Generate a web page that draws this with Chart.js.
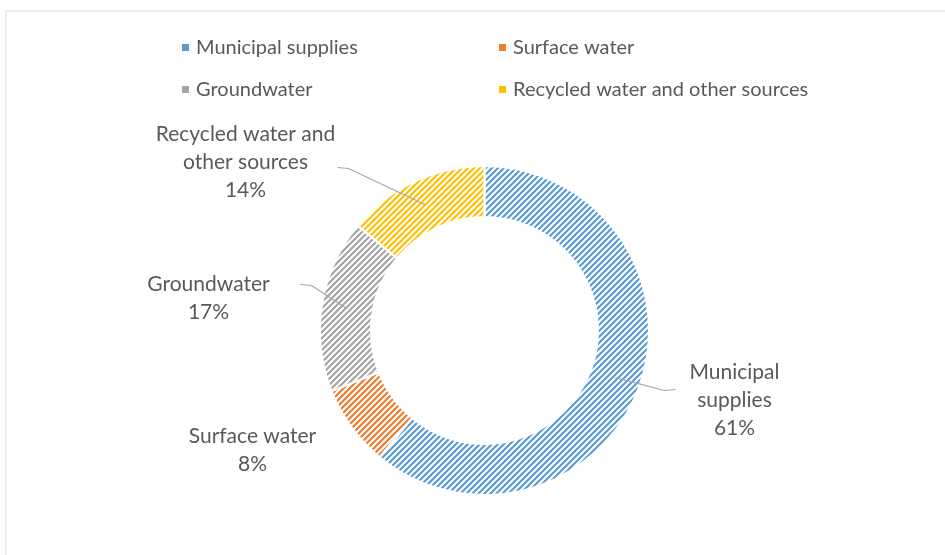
<!DOCTYPE html>
<html>
<head>
<meta charset="utf-8">
<script src="https://cdn.jsdelivr.net/npm/chart.js@4.4.1/dist/chart.umd.min.js"></script>
<style>
  html, body { margin: 0; padding: 0; background: #fff; }
  #wrap { position: relative; width: 945px; height: 555px; overflow: hidden; }
  #frame { position: absolute; left: 5px; top: 10px; width: 1000px; height: 600px;
           border: 2px solid #ededed; background: #fff; }
  canvas { position: absolute; left: 0; top: 0; }
</style>
</head>
<body>
<div id="wrap">
  <div id="frame"></div>
  <canvas id="chart" width="945" height="555"></canvas>
</div>
<script>
// water sources, share of total (%)
const sources = ['Municipal supplies', 'Surface water', 'Groundwater', 'Recycled water and other sources'];
const shares = [61, 8, 17, 14];
const colors = ['#5b9bd5', '#ed7d31', '#a5a5a5', '#ffc000'];

// split label text for the outside labels
const sliceLabels = [['Municipal', 'supplies'], ['Surface water'], ['Groundwater'], ['Recycled water and', 'other sources']];

// where each label block sits, relative to the ring centre; lead = leader line end
const labelSpots = [
  { dx: 250, dy: 70, lead: { x: 191, y: 59, dir: -1 } },
  { dx: -232, dy: 120, lead: null },
  { dx: -276, dy: -32, lead: { x: -184, y: -46, dir: 1 } },
  { dx: -239, dy: -168, lead: { x: -147, y: -163, dir: 1 } }
];

const FONT = 'Lato, "Open Sans", sans-serif';
const TEXT = '#595959';

function hatch(color) {
  const c = document.createElement('canvas');
  c.width = 6; c.height = 6;
  const g = c.getContext('2d');
  g.fillStyle = '#ffffff';
  g.fillRect(0, 0, 6, 6);
  g.strokeStyle = color;
  g.lineWidth = 2.2;
  g.beginPath();
  g.moveTo(-3, 3); g.lineTo(3, -3);
  g.moveTo(0, 6); g.lineTo(6, 0);
  g.moveTo(3, 9); g.lineTo(9, 3);
  g.stroke();
  return g.createPattern(c, 'repeat');
}

const outsideLabels = {
  id: 'outsideLabels',
  afterDraw(chart) {
    const ctx = chart.ctx;
    const arcs = chart.getDatasetMeta(0).data;
    const total = shares.reduce((a, b) => a + b, 0);
    ctx.save();
    arcs.forEach((arc, i) => {
      const p = arc.getProps(['x', 'y', 'startAngle', 'endAngle', 'innerRadius', 'outerRadius'], true);
      const spot = labelSpots[i];
      const lines = sliceLabels[i].concat([Math.round(shares[i] / total * 100) + '%']);
      // leader line
      if (spot.lead) {
        const mid = (p.startAngle + p.endAngle) / 2;
        const r = (p.innerRadius + p.outerRadius) / 2;
        const sx = p.x + Math.cos(mid) * r;
        const sy = p.y + Math.sin(mid) * r;
        const ex = p.x + spot.lead.x;
        const ey = p.y + spot.lead.y;
        ctx.strokeStyle = '#a6a6a6';
        ctx.lineWidth = 1.2;
        ctx.beginPath();
        ctx.moveTo(ex, ey);
        ctx.lineTo(ex + spot.lead.dir * 11, ey + 1);
        ctx.lineTo(sx, sy);
        ctx.stroke();
      }
      ctx.fillStyle = TEXT;
      ctx.font = '21px ' + FONT;
      ctx.textAlign = 'center';
      ctx.textBaseline = 'middle';
      const lh = 28;
      const top = p.y + spot.dy - (lines.length - 1) * lh / 2;
      lines.forEach((t, k) => ctx.fillText(t, p.x + spot.dx, top + k * lh));
    });
    ctx.restore();
  }
};

// two-column legend above the ring
const gridLegend = {
  id: 'gridLegend',
  afterDraw(chart) {
    const ctx = chart.ctx;
    const cols = [182, 499];
    const rows = [48, 90];
    ctx.save();
    ctx.font = '20px ' + FONT;
    ctx.textBaseline = 'middle';
    ctx.textAlign = 'left';
    sources.forEach((name, i) => {
      const x = cols[i % 2];
      const y = rows[Math.floor(i / 2)];
      ctx.fillStyle = colors[i];
      ctx.fillRect(x, y - 4, 7, 7);
      ctx.fillStyle = TEXT;
      ctx.fillText(name, x + 14, y);
    });
    ctx.restore();
  }
};

new Chart(document.getElementById('chart').getContext('2d'), {
  type: 'doughnut',
  data: {
    labels: sources,
    datasets: [{
      data: shares,
      backgroundColor: colors.map(hatch),
      borderColor: '#ffffff',
      borderWidth: 2
    }]
  },
  options: {
    responsive: false,
    animation: false,
    cutout: '69%',
    layout: { padding: { top: 165, bottom: 59, left: 24, right: 0 } },
    plugins: {
      legend: { display: false },
      tooltip: { enabled: false }
    }
  },
  plugins: [outsideLabels, gridLegend]
});
</script>
</body>
</html>
